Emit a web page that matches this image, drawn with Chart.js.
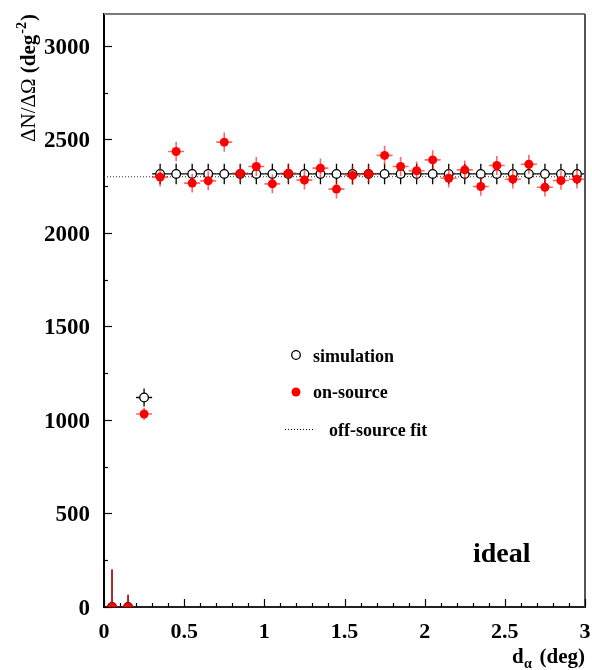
<!DOCTYPE html>
<html><head><meta charset="utf-8">
<script src="https://cdn.jsdelivr.net/npm/chart.js@4/dist/chart.umd.min.js"></script>
<style>html,body{margin:0;padding:0;background:#fff}canvas{display:block}</style>
</head><body>
<canvas id="c" width="592" height="670"></canvas>
<script>
// ---- data ----
const binCenters = [0.05,0.15,0.25,0.35,0.45,0.55,0.65,0.75,0.85,0.95,1.05,1.15,1.25,1.35,1.45,1.55,1.65,1.75,1.85,1.95,2.05,2.15,2.25,2.35,2.45,2.55,2.65,2.75,2.85,2.95];
const binHalfWidth = 0.05;
const simulation = [0,0,1120,2315,2315,2315,2315,2315,2315,2315,2315,2315,2315,2315,2315,2315,2315,2315,2315,2315,2315,2315,2315,2315,2315,2315,2315,2315,2315,2315];
const simulationErr = [200,65,48,55,55,55,55,55,55,55,55,55,55,55,55,55,55,55,55,55,55,55,55,55,55,55,55,55,55,55];
const onSource = [0,0,1032,2298,2435,2266,2278,2485,2318,2355,2262,2319,2282,2346,2234,2307,2315,2414,2355,2332,2390,2292,2337,2248,2360,2287,2367,2244,2280,2287];
const onSourceErr = [200,65,33,50,52,50,50,52,50,51,50,50,50,51,50,50,50,52,51,50,51,50,50,50,51,50,51,50,50,50];
const fitX = [0, 3];
const fitY = [2300, 2300];
const xTickValues = [0,0.5,1,1.5,2,2.5,3];
const xTickLabels = ['0','0.5','1','1.5','2','2.5','3'];
const yTickValues = [0,500,1000,1500,2000,2500,3000];
const yTickLabels = ['0','500','1000','1500','2000','2500','3000'];

const SERIF = "'Liberation Serif','Times New Roman',serif";

const errorBars = {
  id: 'errorBars',
  beforeDatasetDraw(chart, args) {
    const ds = chart.data.datasets[args.index];
    if (!ds.yErr) return;
    const {ctx, chartArea: a, scales: {x, y}} = chart;
    ctx.save();
    ctx.beginPath(); ctx.rect(a.left, a.top, a.right - a.left, a.bottom - a.top); ctx.clip();
    ctx.strokeStyle = ds.errColor; ctx.lineWidth = ds.errWidth;
    ds.data.forEach((p, i) => {
      const px = x.getPixelForValue(p.x), py = y.getPixelForValue(p.y);
      ctx.beginPath();
      ctx.moveTo(x.getPixelForValue(p.x - binHalfWidth), py);
      ctx.lineTo(x.getPixelForValue(p.x + binHalfWidth), py);
      ctx.moveTo(px, y.getPixelForValue(p.y - ds.yErr[i]));
      ctx.lineTo(px, y.getPixelForValue(p.y + ds.yErr[i]));
      ctx.stroke();
    });
    ctx.restore();
  }
};

const decor = {
  id: 'decor',
  afterDraw(chart) {
    const {ctx, chartArea: a, scales: {x, y}} = chart;
    ctx.save();
    // frame top/right
    ctx.strokeStyle = '#7a7a7a'; ctx.lineWidth = 2;
    ctx.beginPath(); ctx.moveTo(a.left, a.top); ctx.lineTo(a.right, a.top); ctx.stroke();
    ctx.strokeStyle = '#555'; 
    ctx.beginPath(); ctx.moveTo(a.right, a.top); ctx.lineTo(a.right, a.bottom); ctx.stroke();
    // inward ticks
    ctx.strokeStyle = '#000'; ctx.lineWidth = 1.2;
    for (let v = 0; v <= y.max + 1; v += 250) {
      const py = Math.round(y.getPixelForValue(v)) + 0.5;
      const len = (v % 500 === 0) ? 8 : 4;
      ctx.beginPath(); ctx.moveTo(a.left, py); ctx.lineTo(a.left + len, py); ctx.stroke();
    }
    for (let k = 0; k <= 30; k++) {
      const px = Math.round(x.getPixelForValue(k / 10)) + 0.5;
      const len = (k % 5 === 0) ? 8 : 4;
      ctx.beginPath(); ctx.moveTo(px, a.bottom); ctx.lineTo(px, a.bottom - len); ctx.stroke();
    }
    ctx.fillStyle = '#000';
    // y axis title (rotated)
    ctx.save();
    ctx.translate(35, 142);
    ctx.rotate(-Math.PI / 2);
    ctx.textBaseline = 'alphabetic'; ctx.textAlign = 'left';
    let cx = 0;
    ctx.font = '21px ' + SERIF;
    ctx.fillText('ΔN/ΔΩ', cx, 0); cx += ctx.measureText('ΔN/ΔΩ').width;
    ctx.font = 'bold 21px ' + SERIF;
    ctx.fillText(' (deg', cx, 0); cx += ctx.measureText(' (deg').width;
    ctx.font = 'bold 14px ' + SERIF;
    ctx.fillText('-2', cx + 1, -9); cx += ctx.measureText('-2').width + 2;
    ctx.font = 'bold 21px ' + SERIF;
    ctx.fillText(')', cx, 0);
    ctx.restore();
    // x axis title
    ctx.textBaseline = 'alphabetic'; ctx.textAlign = 'left';
    ctx.font = 'bold 21px ' + SERIF;
    ctx.fillText('d', 512, 663);
    ctx.font = 'bold 14px ' + SERIF;
    ctx.fillText('α', 524, 668);
    ctx.font = 'bold 21px ' + SERIF;
    ctx.textAlign = 'right';
    ctx.fillText('(deg)', 585, 663);
    // legend
    ctx.textAlign = 'left';
    const sim = chart.data.datasets[1], on = chart.data.datasets[2], fit = chart.data.datasets[0];
    ctx.lineWidth = 1.3; ctx.strokeStyle = '#000'; ctx.fillStyle = '#fff';
    ctx.beginPath(); ctx.arc(296, 355, 4.3, 0, Math.PI * 2); ctx.fill(); ctx.stroke();
    ctx.fillStyle = '#f00';
    ctx.beginPath(); ctx.arc(296, 392, 4.5, 0, Math.PI * 2); ctx.fill();
    ctx.strokeStyle = '#000'; ctx.lineWidth = 1; ctx.setLineDash([1, 2]);
    ctx.beginPath(); ctx.moveTo(285, 429.5); ctx.lineTo(313, 429.5); ctx.stroke();
    ctx.setLineDash([]);
    ctx.fillStyle = '#000';
    ctx.font = 'bold 18px ' + SERIF;
    ctx.fillText(sim.label, 313, 362);
    ctx.fillText(on.label, 313, 398);
    ctx.fillText(fit.label, 329, 436);
    // label
    ctx.font = 'bold 28px ' + SERIF;
    ctx.fillText('ideal', 473, 562);
    ctx.restore();
  }
};

new Chart(document.getElementById('c').getContext('2d'), {
  type: 'scatter',
  data: {
    datasets: [
      { label: 'off-source fit', type: 'line',
        data: fitX.map((v, i) => ({x: v, y: fitY[i]})),
        borderColor: '#333', borderWidth: 1, borderDash: [1, 2], pointRadius: 0, fill: false, order: 3 },
      { label: 'simulation',
        data: binCenters.map((v, i) => ({x: v, y: simulation[i]})),
        yErr: simulationErr, errColor: '#000', errWidth: 1.3,
        pointRadius: 4.3, pointBackgroundColor: '#fff', pointBorderColor: '#000', pointBorderWidth: 1.3,
        clip: 0, order: 2 },
      { label: 'on-source',
        data: binCenters.map((v, i) => ({x: v, y: onSource[i]})),
        yErr: onSourceErr, errColor: 'rgba(255,0,0,0.6)', errWidth: 1.6,
        pointRadius: 4.5, pointBackgroundColor: '#f00', pointBorderColor: '#f00', pointBorderWidth: 0,
        clip: 0, order: 1 }
    ]
  },
  options: {
    responsive: false, animation: false, devicePixelRatio: 1,
    layout: { padding: { left: 0, top: 14, right: 7, bottom: 0 } },
    plugins: { legend: { display: false }, tooltip: { enabled: false } },
    scales: {
      x: {
        type: 'linear', min: 0, max: 3,
        grid: { display: false, drawTicks: false },
        border: { display: true, color: '#222', width: 2 },
        afterBuildTicks(s) { s.ticks = xTickValues.map(v => ({value: v})); },
        afterFit(s) { s.height = 63; s.paddingLeft = 0; s.paddingRight = 0; },
        ticks: { autoSkip: false, maxRotation: 0, padding: 12, color: '#000',
          font: { family: SERIF, size: 22, weight: 'bold' },
          callback: (v) => { const i = xTickValues.indexOf(v); return i >= 0 ? xTickLabels[i] : ''; } }
      },
      y: {
        type: 'linear', min: 0, max: 3170,
        grid: { display: false, drawTicks: false },
        border: { display: true, color: '#000', width: 2 },
        afterBuildTicks(s) { s.ticks = yTickValues.map(v => ({value: v})); },
        afterFit(s) { s.width = 104; s.paddingTop = 0; s.paddingBottom = 0; },
        ticks: { autoSkip: false, padding: 14, labelOffset: 2, color: '#000',
          font: { family: SERIF, size: 23, weight: 'bold' },
          callback: (v) => { const i = yTickValues.indexOf(v); return i >= 0 ? yTickLabels[i] : ''; } }
      }
    }
  },
  plugins: [errorBars, decor]
});
</script>
</body></html>
